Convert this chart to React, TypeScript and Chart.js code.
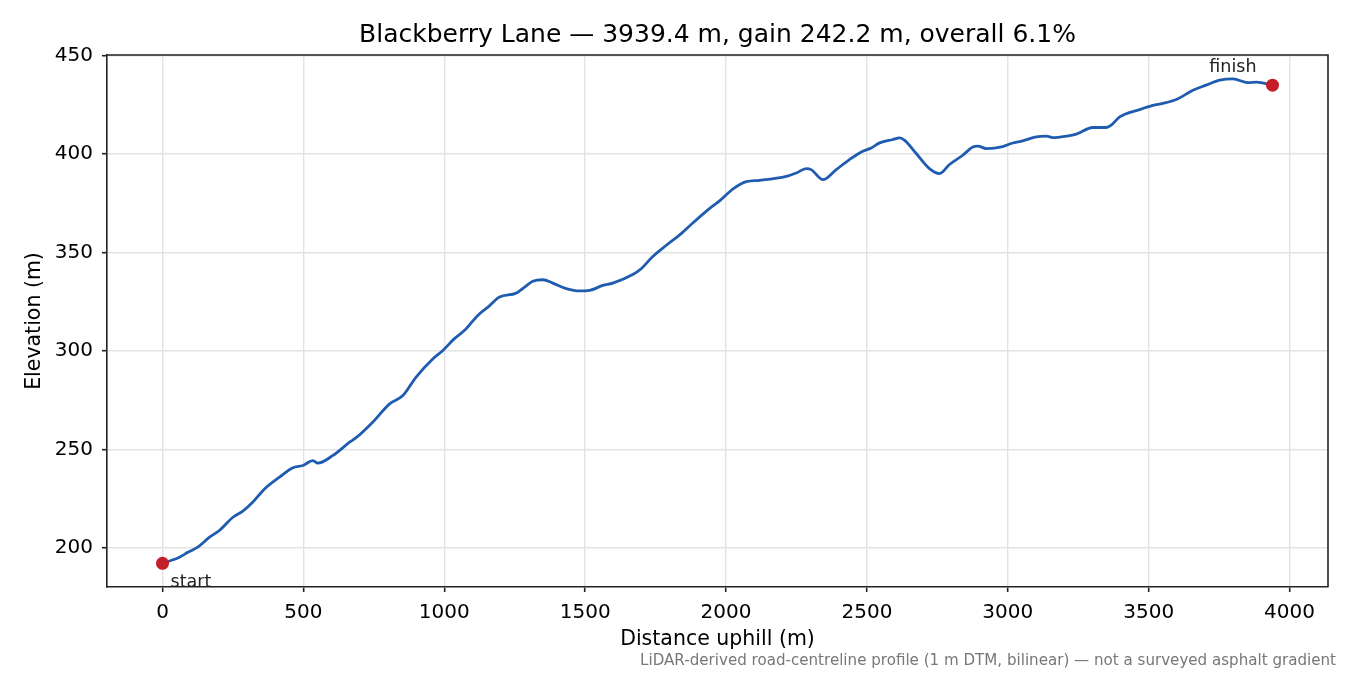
import { useEffect, useRef } from 'react';
import { Chart, registerables } from 'chart.js';
Chart.register(...registerables);

// profile (distance along road in m, elevation in m)
const distances = [
  0, 60, 90, 125, 167, 202, 250, 285, 320, 362, 415, 463, 498, 534, 551, 605, 664, 687, 746, 806,
  853, 900, 960, 995, 1036, 1072, 1119, 1155, 1196, 1255, 1285, 1314, 1350, 1385, 1433, 1480, 1516,
  1563, 1598, 1669, 1699, 1740, 1788, 1841, 1882, 1941, 1977, 2024, 2072, 2119, 2214, 2249, 2285,
  2302, 2344, 2391, 2438, 2480, 2515, 2545, 2592, 2616, 2634, 2675, 2722, 2758, 2793, 2840, 2876,
  2894, 2924, 2982, 3015, 3053, 3101, 3137, 3160, 3207, 3243, 3302, 3349, 3367, 3397, 3468, 3515,
  3550, 3598, 3657, 3704, 3752, 3799, 3852, 3882, 3939.4,
];
const elevations = [
  192.1, 195.2, 197.7, 200.3, 205.4, 208.8, 215.5, 218.6, 223.1, 229.9, 235.9, 240.6, 241.8, 244.3,
  243.0, 246.9, 253.6, 255.9, 263.8, 273.1, 277.3, 286.7, 296.0, 300.2, 306.2, 310.4, 318.0, 322.2,
  327.3, 329.3, 332.4, 335.3, 336.1, 334.4, 331.6, 330.4, 330.7, 333.2, 334.4, 338.8, 341.7, 347.9,
  353.6, 359.5, 364.9, 372.2, 376.1, 382.1, 385.9, 386.6, 388.6, 390.3, 392.5, 392.0, 386.9, 392.0,
  397.1, 401.0, 403.0, 405.6, 407.3, 408.1, 406.9, 400.2, 392.5, 390.0, 394.6, 399.3, 403.5, 403.9,
  402.7, 403.7, 405.4, 406.6, 408.6, 409.0, 408.3, 409.0, 410.0, 413.4, 413.4, 414.6, 418.8, 422.5,
  424.6, 425.6, 427.6, 432.3, 434.9, 437.4, 438.1, 436.2, 436.4, 434.9,
];
const xTicks = [0, 500, 1000, 1500, 2000, 2500, 3000, 3500, 4000];
const yTicks = [200, 250, 300, 350, 400, 450];
const endpointLabels = ['start', 'finish'];
const endpointDist = [distances[0], distances[distances.length - 1]];
const endpointElev = [elevations[0], elevations[elevations.length - 1]];

const titleText = 'Blackberry Lane — 3939.4 m, gain 242.2 m, overall 6.1%';
const footnote = 'LiDAR-derived road-centreline profile (1 m DTM, bilinear) — not a surveyed asphalt gradient';

const FONT = "'DejaVu Sans', sans-serif";
const INK = '#222';
const GRID = '#e3e3e3';

const decorations = {
  id: 'decorations',
  afterDatasetsDraw(chart: any) {
    const { ctx, chartArea: a, scales } = chart;
    ctx.save();
    // top and right spines
    ctx.strokeStyle = INK;
    ctx.lineWidth = 1.6;
    ctx.beginPath();
    ctx.moveTo(a.left, a.top);
    ctx.lineTo(a.right, a.top);
    ctx.lineTo(a.right, a.bottom);
    ctx.stroke();

    // start / finish annotations
    ctx.font = `17.5px ${FONT}`;
    ctx.fillStyle = INK;
    ctx.textBaseline = 'alphabetic';
    const sx = scales.x.getPixelForValue(endpointDist[0]);
    const sy = scales.y.getPixelForValue(endpointElev[0]);
    ctx.textAlign = 'left';
    ctx.fillText(endpointLabels[0], sx + 8, sy + 24);
    const fx = scales.x.getPixelForValue(endpointDist[1]);
    const fy = scales.y.getPixelForValue(endpointElev[1]);
    ctx.textAlign = 'right';
    ctx.fillText(endpointLabels[1], fx - 16, fy - 13);
    ctx.restore();
  },
  afterDraw(chart: any) {
    const { ctx, chartArea: a } = chart;
    ctx.save();
    ctx.fillStyle = '#000';
    ctx.font = `25px ${FONT}`;
    ctx.textAlign = 'center';
    ctx.textBaseline = 'alphabetic';
    ctx.fillText(titleText, (a.left + a.right) / 2, 42);
    ctx.fillStyle = '#777';
    ctx.font = `15.1px ${FONT}`;
    ctx.textAlign = 'right';
    ctx.fillText(footnote, 1336, 665);
    ctx.restore();
  },
};

export default function App() {
  const canvasRef = useRef<HTMLCanvasElement>(null);
  const chartRef = useRef<Chart | null>(null);

  useEffect(() => {
    if (!canvasRef.current) return;
    if (chartRef.current) chartRef.current.destroy();

    const tickFont = { family: FONT, size: 20 };
    const titleFont = { family: FONT, size: 20.5 };

    chartRef.current = new Chart(canvasRef.current, {
      type: 'line',
      data: {
        datasets: [
          {
            label: 'endpoints',
            data: endpointDist.map((d, i) => ({ x: d, y: endpointElev[i] })),
            showLine: false,
            pointRadius: 6.5,
            pointBackgroundColor: '#c41e2a',
            pointBorderWidth: 0,
          },
          {
            label: 'elevation',
            data: distances.map((d, i) => ({ x: d, y: elevations[i] })),
            borderColor: '#1f5cb0',
            borderWidth: 2.8,
            pointRadius: 0,
            cubicInterpolationMode: 'monotone',
            fill: false,
          },
        ],
      },
      options: {
        responsive: false,
        animation: false,
        layout: { padding: { top: 55, right: 22, left: 0, bottom: 0 } },
        plugins: { legend: { display: false }, tooltip: { enabled: false } },
        scales: {
          x: {
            type: 'linear',
            min: -197,
            max: 4136.4,
            afterBuildTicks: (s: any) => { s.ticks = xTicks.map(v => ({ value: v })); },
            afterFit: (s: any) => { s.height = 88; },
            ticks: { color: '#000', font: tickFont, padding: 9, maxRotation: 0, autoSkip: false, callback: (v: any) => String(v) },
            grid: { color: GRID, lineWidth: 1.4, tickColor: INK, tickLength: 5, tickWidth: 1.6 },
            border: { color: INK, width: 1.6 },
            title: { display: true, text: 'Distance uphill (m)', color: '#000', font: titleFont, padding: { top: 0, bottom: 23 } },
          },
          y: {
            type: 'linear',
            min: 180.1,
            max: 450.2,
            afterBuildTicks: (s: any) => { s.ticks = yTicks.map(v => ({ value: v })); },
            afterFit: (s: any) => { s.width = 107; },
            ticks: { color: '#000', font: tickFont, padding: 9, autoSkip: false, callback: (v: any) => String(v) },
            grid: { color: GRID, lineWidth: 1.4, tickColor: INK, tickLength: 5, tickWidth: 1.6 },
            border: { color: INK, width: 1.6 },
            title: { display: true, text: 'Elevation (m)', color: '#000', font: titleFont, padding: { top: 22, bottom: 0 } },
          },
        },
      },
      plugins: [decorations],
    } as any);

    return () => { chartRef.current?.destroy(); };
  }, []);

  return (
    <div style={{ position: 'absolute', left: 0, top: 0, width: 1350, height: 675, background: '#fff' }}>
      <canvas ref={canvasRef} width={1350} height={675} style={{ width: 1350, height: 675 }} role="img" aria-label="Elevation profile of Blackberry Lane" />
    </div>
  );
}
